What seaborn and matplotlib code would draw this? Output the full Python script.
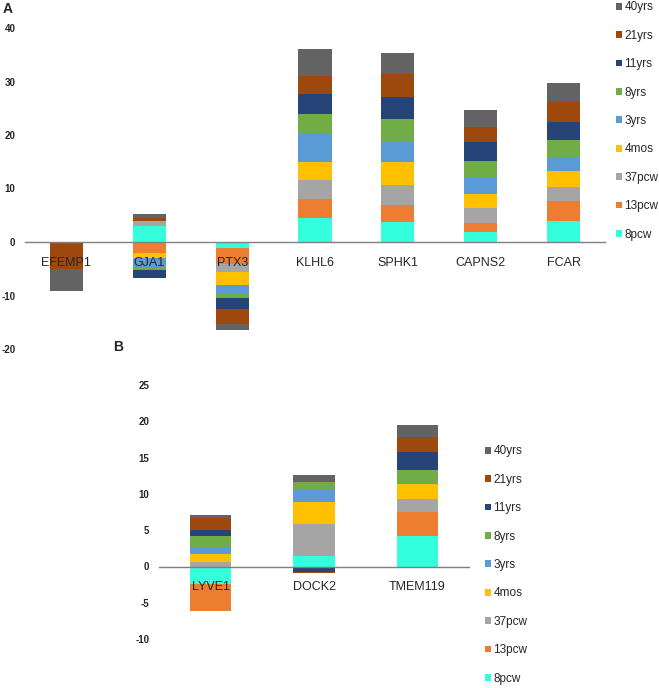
import numpy as np
import pandas as pd
import matplotlib
matplotlib.use("Agg")
import matplotlib.pyplot as plt
import seaborn as sns
from matplotlib.patches import Patch

# --- DATA (stack order: bottom -> top) ---
stages = ["8pcw", "13pcw", "37pcw", "4mos", "3yrs", "8yrs", "11yrs", "21yrs", "40yrs"]
stage_colors = ["#33FFDD", "#ED7D31", "#A5A5A5", "#FFC000", "#5B9BD5",
                "#70AD47", "#264478", "#9E480E", "#636363"]

genes_a = ["EFEMP1", "GJA1", "PTX3", "KLHL6", "SPHK1", "CAPNS2", "FCAR"]
a_8pcw = [0, 2.9, -1.1, 4.4, 3.7, 1.8, 3.9]
a_13pcw = [0, -2.1, -3.0, 3.7, 3.3, 1.7, 3.8]
a_37pcw = [0, 1.1, -1.6, 3.5, 3.6, 2.8, 2.5]
a_4mos = [0, -0.9, -2.3, 3.3, 4.3, 2.6, 3.0]
a_3yrs = [0, -1.6, -1.8, 5.5, 3.8, 3.3, 2.7]
a_8yrs = [0, -0.7, -0.6, 3.5, 4.3, 3.0, 3.1]
a_11yrs = [0, -1.5, -2.2, 3.8, 4.1, 3.5, 3.5]
a_21yrs = [-5.1, 0.5, -2.8, 3.3, 4.3, 2.8, 3.7]
a_40yrs = [-4.0, 0.8, -1.1, 5.1, 3.9, 3.2, 3.6]

genes_b = ["LYVE1", "DOCK2", "TMEM119"]
b_8pcw = [-2.4, 1.4, 4.25]
b_13pcw = [-3.7, -0.15, 3.3]
b_37pcw = [0.65, 4.4, 1.8]
b_4mos = [1.1, 3.1, 2.0]
b_3yrs = [0.9, 1.7, 0.2]
b_8yrs = [1.6, 1.0, 1.7]
b_11yrs = [0.8, -0.55, 2.6]
b_21yrs = [1.7, -0.2, 2.0]
b_40yrs = [0.4, 1.0, 1.6]

series_a = [a_8pcw, a_13pcw, a_37pcw, a_4mos, a_3yrs, a_8yrs, a_11yrs, a_21yrs, a_40yrs]
series_b = [b_8pcw, b_13pcw, b_37pcw, b_4mos, b_3yrs, b_8yrs, b_11yrs, b_21yrs, b_40yrs]

sns.set_style("white")
plt.rcParams["font.family"] = ["Liberation Sans", "DejaVu Sans"]
plt.rcParams["axes.unicode_minus"] = False

fig = plt.figure(figsize=(6.59, 6.88), dpi=100)


def stacked_panel(ax, genes, series, yticks, ylim):
    pos = np.zeros(len(genes))
    neg = np.zeros(len(genes))
    for name, vals, col in zip(stages, series, stage_colors):
        vals = np.asarray(vals, dtype=float)
        bottom = np.where(vals >= 0, pos, neg)
        df = pd.DataFrame({"gene": genes, "value": vals})
        sns.barplot(data=df, x="gene", y="value", order=genes, color=col,
                    saturation=1, width=0.4, errorbar=None, bottom=bottom,
                    linewidth=0, ax=ax)
        pos = pos + np.where(vals > 0, vals, 0)
        neg = neg + np.where(vals < 0, vals, 0)
    ax.set_xlim(-0.5, len(genes) - 0.5)
    ax.set_ylim(*ylim)
    ax.set_yticks(yticks)
    ax.set_xlabel("")
    ax.set_ylabel("")
    sns.despine(ax=ax, left=True)
    ax.set_axisbelow(False)
    ax.spines["bottom"].set_position(("data", 0))
    ax.spines["bottom"].set_color("#7f7f7f")
    ax.spines["bottom"].set_linewidth(1.0)
    ax.tick_params(axis="y", length=0, pad=7, labelsize=7)
    ax.tick_params(axis="x", length=0, pad=10.5, labelsize=9)
    for lab in ax.get_yticklabels():
        lab.set_fontweight("bold")
    ax.patch.set_alpha(0)


ax_a = fig.add_axes([25 / 659, 1 - 349 / 688, 580 / 659, 321 / 688])
stacked_panel(ax_a, genes_a, series_a, range(-20, 41, 10), (-20, 40))

ax_b = fig.add_axes([159 / 659, 1 - 639 / 688, 310 / 659, 290 / 688])
stacked_panel(ax_b, genes_b, series_b, range(-10, 26, 5), (-10, 30))

handles = [Patch(facecolor=c, edgecolor="none", label=s)
           for s, c in zip(stages[::-1], stage_colors[::-1])]
leg_kw = dict(frameon=False, fontsize=8.5, handlelength=0.5, handleheight=0.5,
              handletextpad=0.2, labelspacing=1.39, borderpad=0,
              borderaxespad=0, loc="center left")
fig.legend(handles=handles, bbox_to_anchor=(616 / 659, 1 - 121 / 688), **leg_kw)
fig.legend(handles=handles, bbox_to_anchor=(485 / 659, 1 - 565 / 688), **leg_kw)

fig.text(3 / 659, 1 - 9 / 688, "A", fontsize=10, fontweight="bold", va="center")
fig.text(113 / 659, 1 - 347 / 688, "B", fontsize=10, fontweight="bold", va="center")

fig.savefig("out.png", dpi=100)
